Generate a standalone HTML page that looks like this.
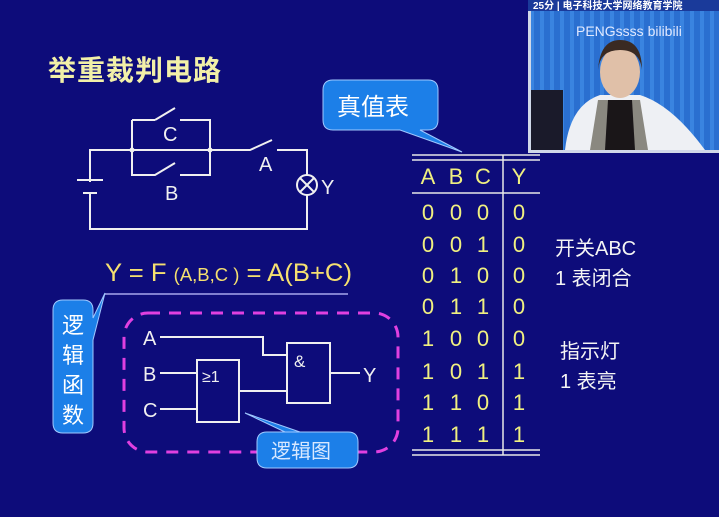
<!DOCTYPE html>
<html><head><meta charset="utf-8"><style>
body{margin:0;width:719px;height:517px;overflow:hidden;background:#0d0c7a}
svg{display:block}
text{font-family:"Liberation Sans","Noto Sans CJK SC",sans-serif}
</style></head><body>
<svg width="719" height="517" viewBox="0 0 719 517">
<rect width="719" height="517" fill="#0d0c7a"/>
<text x="48" y="80" font-size="28" fill="#f2f0a8" font-family="Noto Serif CJK SC, serif" font-weight="bold" letter-spacing="1">举重裁判电路</text>
<g stroke="#f0f0f0" stroke-width="2" fill="none">
<path d="M132 120H155M155 120L175 108M180 120H210V175H180M175 163L155 175H132V120"/>
<path d="M90 194V229H307V195M307 175V150H277M272 140L250 150H132M90 182V150H132"/>
<path d="M77 180H103M83 193H97"/>
<circle cx="307" cy="185" r="10"/>
<path d="M300 178L314 192M314 178L300 192"/>
</g>
<circle cx="132" cy="150" r="2.5" fill="#f0f0f0"/><circle cx="210" cy="150" r="2.5" fill="#f0f0f0"/>
<g fill="#f0f0f0" font-size="20">
<text x="163" y="141">C</text><text x="165" y="200">B</text><text x="259" y="171">A</text><text x="321" y="194">Y</text>
</g>
<text x="105" y="281" font-size="25" fill="#f5e070" textLength="247" lengthAdjust="spacingAndGlyphs">Y = F <tspan font-size="18">(A,B,C )</tspan> = A(B+C)</text>
<path d="M105 294H348" stroke="#8080d0" stroke-width="2"/>
<path d="M333 80H428Q438 80 438 90V120Q438 130 428 130H420L462 152L400 130H333Q323 130 323 120V90Q323 80 333 80Z" fill="#1c7fe8" stroke="#a0c8ff" stroke-width="1"/>
<text x="337" y="115" font-size="24" fill="#fff" font-family="Noto Serif CJK SC, serif">真值表</text>
<path d="M63 300H83Q93 300 93 310V318L105 293L93 340V423Q93 433 83 433H63Q53 433 53 423V310Q53 300 63 300Z" fill="#1c7fe8" stroke="#a0c8ff" stroke-width="1"/>
<g fill="#fff" font-size="22" font-family="Noto Serif CJK SC, serif">
<text x="62" y="333">逻</text><text x="62" y="363">辑</text><text x="62" y="393">函</text><text x="62" y="423">数</text>
</g>
<rect x="124" y="313" width="274" height="139" rx="24" fill="none" stroke="#e040e0" stroke-width="3" stroke-dasharray="12 9"/>
<g stroke="#f0f0f0" stroke-width="2" fill="none">
<path d="M160 337H263V355H287M160 373H197M160 409H197M239 391H287M330 373H360"/>
<rect x="197" y="360" width="42" height="62"/><rect x="287" y="343" width="43" height="60"/>
</g>
<g fill="#f0f0f0" font-size="20">
<text x="143" y="345">A</text><text x="143" y="381">B</text><text x="143" y="417">C</text><text x="363" y="382">Y</text>
<text x="294" y="367" font-size="17">&amp;</text><text x="202" y="382" font-size="16">≥1</text>
</g>
<path d="M267 432H348Q358 432 358 442V458Q358 468 348 468H267Q257 468 257 458V442Q257 432 267 432H285L245 413L300 432Z" fill="#1c7fe8" stroke="#a0c8ff" stroke-width="1"/>
<text x="271" y="458" font-size="20" fill="#d8e8ff" font-family="Noto Serif CJK SC, serif">逻辑图</text>
<g stroke="#e8e8e8" stroke-width="1.5">
<path d="M412 155H540M412 160H540M412 193H540M503 155V455M412 450H540M412 455H540"/>
</g>
<g fill="#f0f080" font-size="22" text-anchor="middle">
<text x="428" y="184">A</text><text x="456" y="184">B</text><text x="483" y="184">C</text><text x="519" y="184">Y</text>
<text x="428" y="220">0</text><text x="456" y="220">0</text><text x="483" y="220">0</text><text x="519" y="220">0</text>
<text x="428" y="252">0</text><text x="456" y="252">0</text><text x="483" y="252">1</text><text x="519" y="252">0</text>
<text x="428" y="283">0</text><text x="456" y="283">1</text><text x="483" y="283">0</text><text x="519" y="283">0</text>
<text x="428" y="314">0</text><text x="456" y="314">1</text><text x="483" y="314">1</text><text x="519" y="314">0</text>
<text x="428" y="346">1</text><text x="456" y="346">0</text><text x="483" y="346">0</text><text x="519" y="346">0</text>
<text x="428" y="379">1</text><text x="456" y="379">0</text><text x="483" y="379">1</text><text x="519" y="379">1</text>
<text x="428" y="410">1</text><text x="456" y="410">1</text><text x="483" y="410">0</text><text x="519" y="410">1</text>
<text x="428" y="442">1</text><text x="456" y="442">1</text><text x="483" y="442">1</text><text x="519" y="442">1</text>
</g>
<g fill="#f4f4f4" font-size="20">
<text x="555" y="255">开关ABC</text><text x="555" y="285">1 表闭合</text>
<text x="560" y="358">指示灯</text><text x="560" y="388">1 表亮</text>
</g>
<defs><pattern id="cur" width="10" height="20" patternUnits="userSpaceOnUse"><rect width="4" height="20" fill="#3a84e0"/></pattern></defs>
<rect x="528" y="0" width="191" height="153" fill="#d0d8e8"/>
<rect x="531" y="10" width="188" height="140" fill="#2a6fd0"/>
<rect x="531" y="10" width="188" height="140" fill="url(#cur)"/>
<rect x="528" y="0" width="191" height="11" fill="#1a3a9a"/>
<text x="533" y="9" font-size="10" fill="#fff" font-weight="bold">25分 | 电子科技大学网络教育学院</text>
<text x="576" y="36" font-size="14" fill="#e0e8ff">PENGssss bilibili</text>
<rect x="531" y="90" width="32" height="60" fill="#1a1a2a"/>
<path d="M565 150Q570 105 600 95L640 95Q672 105 705 150Z" fill="#eef0f4"/>
<path d="M590 150L598 100H640L648 150Z" fill="#8a8880"/>
<path d="M605 150L608 100H632L635 150Z" fill="#1a1618"/>
<ellipse cx="620" cy="72" rx="20" ry="26" fill="#e0c0a8"/>
<path d="M598 70Q600 40 620 40Q642 40 642 70Q640 50 620 50Q600 50 598 70Z" fill="#3a2a22"/>
</svg>
</body></html>
